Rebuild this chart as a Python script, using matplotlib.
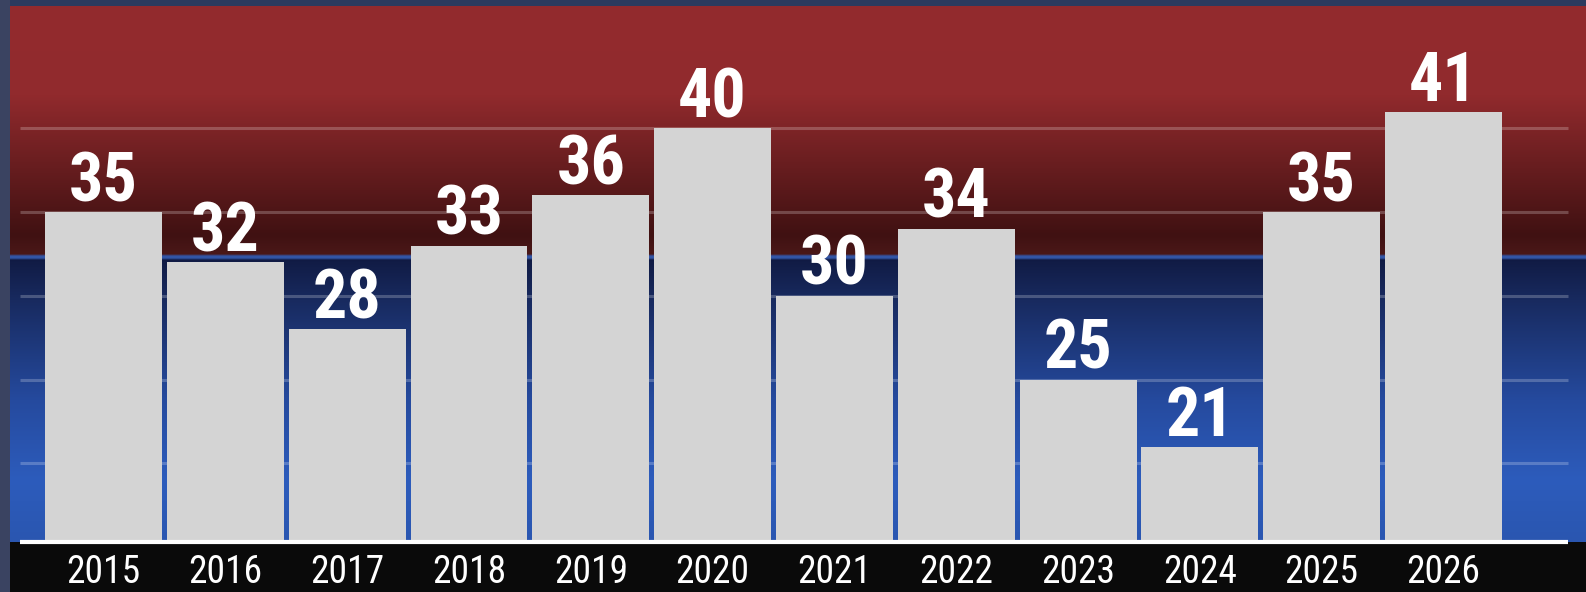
import numpy as np
import matplotlib.pyplot as plt
from matplotlib.patches import Rectangle

years = ["2015", "2016", "2017", "2018", "2019", "2020",
         "2021", "2022", "2023", "2024", "2025", "2026"]
values = [35, 32, 28, 33, 36, 40, 30, 34, 25, 21, 35, 41]
grid_values = [20, 25, 30, 35, 40]

W, H = 1586, 592
FONT = ["Roboto Condensed", "Roboto", "DejaVu Sans"]

fig = plt.figure(figsize=(W / 100, H / 100), dpi=100)
fig.patch.set_facecolor("#2b3a5e")

# left frame strip and bottom black band
fig.patches.append(Rectangle((0, 0), 10 / W, 1, transform=fig.transFigure,
                             facecolor="#3a4361", edgecolor="none", zorder=-2))
fig.patches.append(Rectangle((10 / W, 0), 1, 50 / H, transform=fig.transFigure,
                             facecolor="#0a0a0a", edgecolor="none", zorder=-2))

ax = fig.add_axes([10 / W, 50 / H, 1 - 10 / W, 536 / H])

# background: red band over blue band (pixel rows from top of image)
stops_y = [6, 95, 235, 254, 256, 258, 260, 262, 300, 400, 480, 542]
stops_c = np.array([
    (147, 42, 46), (145, 42, 45), (64, 17, 18), (74, 24, 24),
    (50, 85, 165), (50, 85, 165), (16, 26, 66), (17, 28, 70),
    (24, 42, 95), (37, 74, 158), (45, 92, 188), (42, 86, 176),
]) / 255
rows = np.arange(6, 542) + 0.5
grad = np.stack([np.interp(rows, stops_y, stops_c[:, k]) for k in range(3)], axis=1)
ax.imshow(grad[:, None, :], extent=(0, 1, 0, 1), transform=ax.transAxes,
          aspect="auto", zorder=0, interpolation="nearest")

x = np.arange(len(years))
x0, x1 = -0.686, 12.02
ax.hlines(grid_values, x0, x1, colors="white", alpha=0.22, linewidth=2.2, zorder=1)

ax.bar(x, values, width=0.96, bottom=0, color="#d4d4d4", zorder=2)

ymin = 15.3
ax.set_xlim(-0.768, 12.17)
ax.set_ylim(ymin, ymin + 536 / 16.75)
ax.plot([x0, x1], [ymin, ymin], color="white", linewidth=3, zorder=3,
        clip_on=False, solid_capstyle="butt")

for xi, v in zip(x, values):
    ax.annotate(str(v), (xi, v), xytext=(0, 11), textcoords="offset pixels",
                ha="center", va="baseline", color="white", fontsize=49,
                fontweight="semibold", family=FONT, zorder=4)

for xi, lab in zip(x, years):
    ax.annotate(lab, (xi, 0), xycoords=("data", "axes fraction"),
                xytext=(0, -41), textcoords="offset pixels",
                ha="center", va="baseline", color="white", fontsize=27,
                family=FONT, annotation_clip=False, zorder=5)

ax.axis("off")
fig.savefig("out.png", dpi=100, facecolor=fig.get_facecolor())
